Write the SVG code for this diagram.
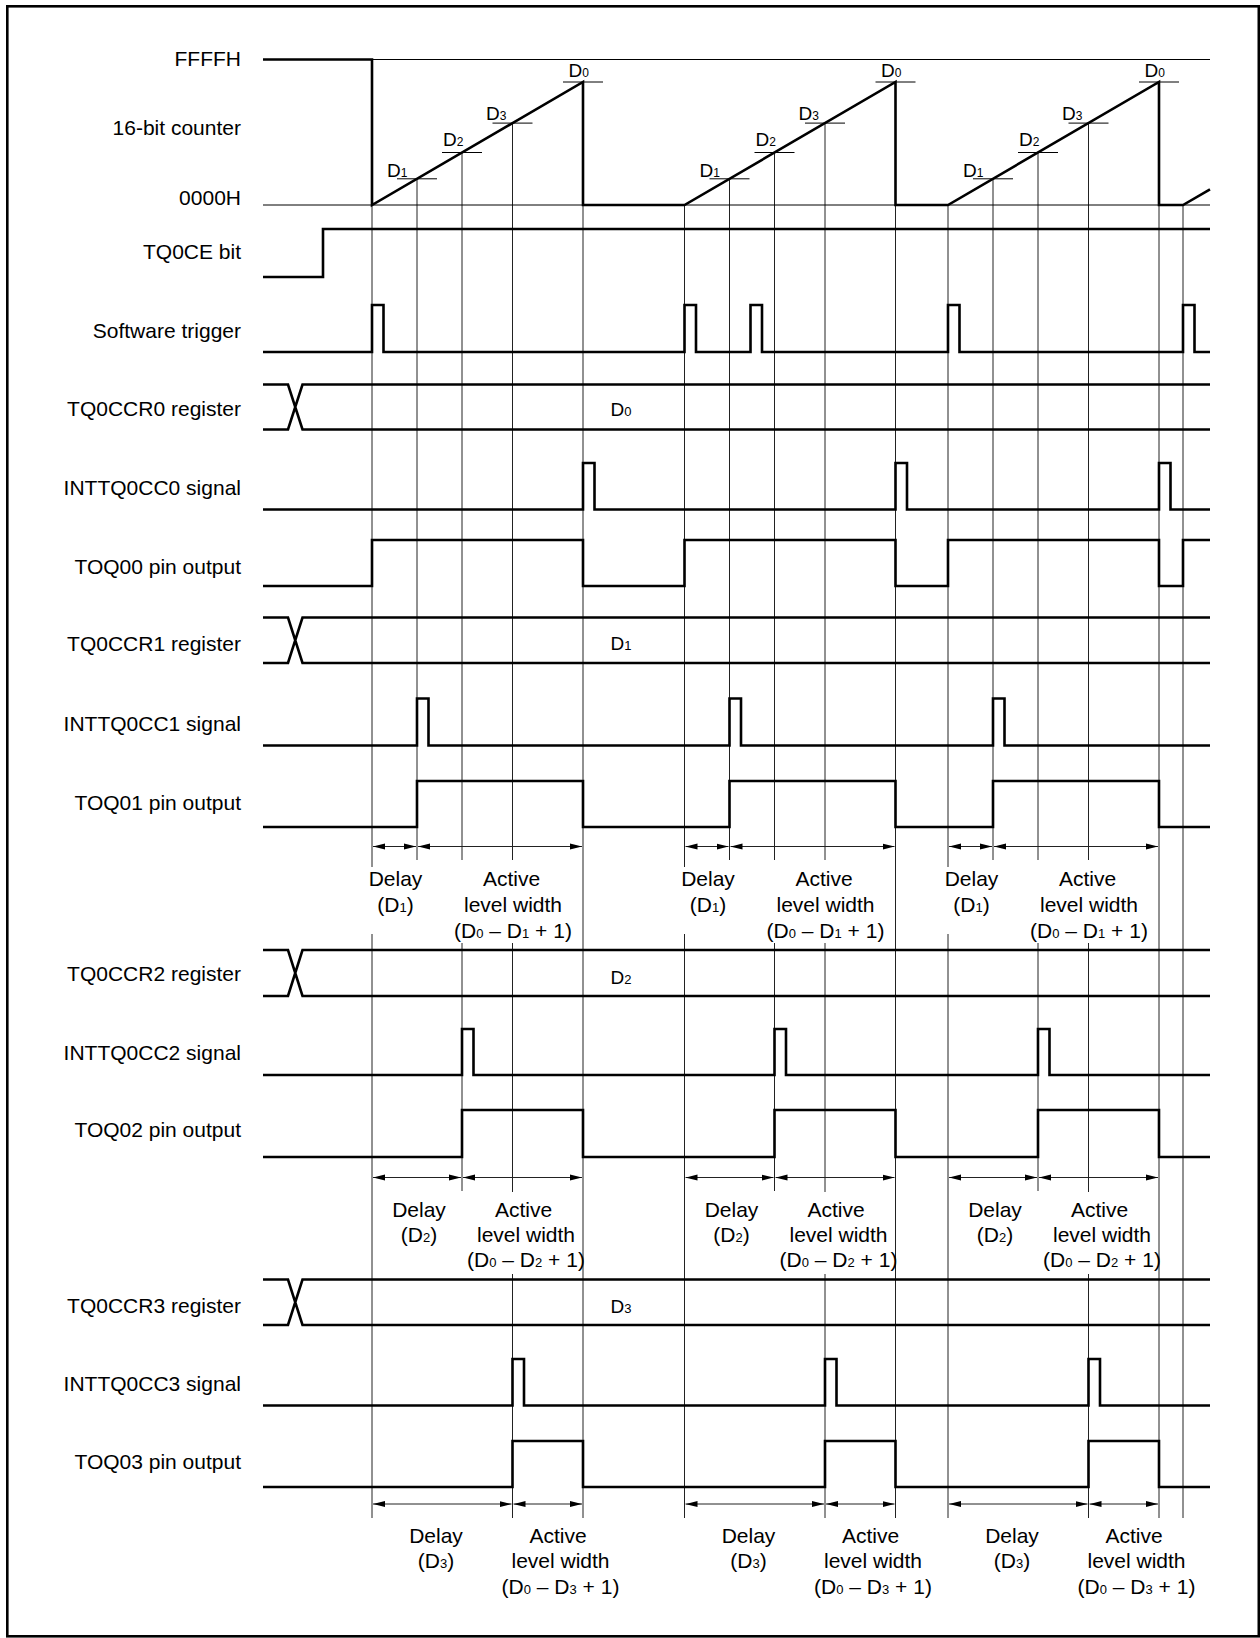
<svg xmlns="http://www.w3.org/2000/svg" width="1260" height="1638" viewBox="0 0 1260 1638">
<style>
text{font-family:"Liberation Sans",Arial,Helvetica,sans-serif;fill:#000}
.lbl{font-size:21px;text-anchor:end}
.ann{font-size:21px;text-anchor:middle}
.sub{font-size:13px}
.dl{font-size:19px}
.dls{font-size:12px}
.bl{font-size:19px;text-anchor:middle}
.sig{fill:none;stroke:#000;stroke-width:2.6;stroke-linejoin:miter;stroke-linecap:butt}
.thin{fill:none;stroke:#000;stroke-width:1}
.guide{fill:none;stroke:#222;stroke-width:1}
.arr{fill:none;stroke:#222;stroke-width:1;marker-start:url(#ah);marker-end:url(#ah)}
</style>
<defs>
<marker id="ah" markerUnits="userSpaceOnUse" markerWidth="12" markerHeight="8" viewBox="0 0 12 8" refX="12" refY="4" orient="auto-start-reverse"><path d="M0,1 L12,4 L0,7 z" fill="#000"/></marker>
</defs>
<rect x="7.3" y="6.3" width="1251.5" height="1630" fill="none" stroke="#000" stroke-width="2.6"/>

<g id="connectors">
<path class="guide" d="M372,205 V867 M372,934 V1518 M417,178.8 V860 M462,152.5 V860 M462,943 V1191 M512.5,123.1 V860 M512.5,943 V1192 M512.5,1274 V1518 M583,82 V1518"/>
<path class="guide" d="M684.5,205 V867 M684.5,934 V1518 M729.5,178.8 V860 M774.5,152.5 V860 M774.5,943 V1191 M825,123.1 V860 M825,943 V1192 M825,1274 V1518 M895.5,82 V1518"/>
<path class="guide" d="M948,205 V867 M948,934 V1518 M993,178.8 V860 M1038,152.5 V860 M1038,943 V1191 M1088.5,123.1 V860 M1088.5,943 V1192 M1088.5,1274 V1518 M1159,82 V1518 M1183,205 V1518"/>
<g id="arrows1">
<line class="arr" x1="373" y1="846.5" x2="416" y2="846.5"/>
<line class="arr" x1="418" y1="846.5" x2="582" y2="846.5"/>
<line class="arr" x1="685.5" y1="846.5" x2="728.5" y2="846.5"/>
<line class="arr" x1="730.5" y1="846.5" x2="894.5" y2="846.5"/>
<line class="arr" x1="949" y1="846.5" x2="992" y2="846.5"/>
<line class="arr" x1="994" y1="846.5" x2="1158" y2="846.5"/>
</g>
<g id="arrows2">
<line class="arr" x1="373" y1="1177.5" x2="461" y2="1177.5"/>
<line class="arr" x1="463" y1="1177.5" x2="582" y2="1177.5"/>
<line class="arr" x1="685.5" y1="1177.5" x2="773.5" y2="1177.5"/>
<line class="arr" x1="775.5" y1="1177.5" x2="894.5" y2="1177.5"/>
<line class="arr" x1="949" y1="1177.5" x2="1037" y2="1177.5"/>
<line class="arr" x1="1039" y1="1177.5" x2="1158" y2="1177.5"/>
</g>
<g id="arrows3">
<line class="arr" x1="373" y1="1504" x2="511.5" y2="1504"/>
<line class="arr" x1="513.5" y1="1504" x2="582" y2="1504"/>
<line class="arr" x1="685.5" y1="1504" x2="824" y2="1504"/>
<line class="arr" x1="826" y1="1504" x2="894.5" y2="1504"/>
<line class="arr" x1="949" y1="1504" x2="1087.5" y2="1504"/>
<line class="arr" x1="1089.5" y1="1504" x2="1158" y2="1504"/>
</g>
</g>

<g id="counter">
<text class="lbl" x="241" y="66">FFFFH</text>
<text class="lbl" x="241" y="135">16-bit counter</text>
<text class="lbl" x="241" y="205">0000H</text>
<path class="thin" d="M372,59.5 H1210 M263,205 H1210"/>
<path class="thin" d="M397,178.8 H437 M442,152.5 H482 M492.5,123.1 H532.5 M563,82 H603"/>
<path class="thin" d="M709.5,178.8 H749.5 M754.5,152.5 H794.5 M805,123.1 H845 M875.5,82 H915.5"/>
<path class="thin" d="M973,178.8 H1013 M1018,152.5 H1058 M1068.5,123.1 H1108.5 M1139,82 H1179"/>
<path class="sig" d="M263,59.5 H372 V205 L583,82 V205 H684.5 L895.5,82 V205 H948 L1159,82 V205 H1183 L1210,189.3"/>
<text class="dl" x="387" y="177">D<tspan class="dls">1</tspan></text>
<text class="dl" x="443" y="145.5">D<tspan class="dls">2</tspan></text>
<text class="dl" x="486" y="119.5">D<tspan class="dls">3</tspan></text>
<text class="dl" x="568.5" y="77">D<tspan class="dls">0</tspan></text>
<text class="dl" x="699.5" y="177">D<tspan class="dls">1</tspan></text>
<text class="dl" x="755.5" y="145.5">D<tspan class="dls">2</tspan></text>
<text class="dl" x="798.5" y="119.5">D<tspan class="dls">3</tspan></text>
<text class="dl" x="881" y="77">D<tspan class="dls">0</tspan></text>
<text class="dl" x="963" y="177">D<tspan class="dls">1</tspan></text>
<text class="dl" x="1019" y="145.5">D<tspan class="dls">2</tspan></text>
<text class="dl" x="1062" y="119.5">D<tspan class="dls">3</tspan></text>
<text class="dl" x="1144.5" y="77">D<tspan class="dls">0</tspan></text>
</g>

<g id="tq0ce">
<text class="lbl" x="241" y="259">TQ0CE bit</text>
<path class="sig" d="M263,277 H323 V229 H1210"/>
</g>

<g id="swtrigger">
<text class="lbl" x="241" y="338">Software trigger</text>
<path class="sig" d="M263,352 H372 V305 H383.5 V352 H684.5 V305 H696 V352 H750.5 V305 H762 V352 H948 V305 H959.5 V352 H1183 V305 H1194.5 V352 H1210"/>
</g>

<g id="tq0ccr0">
<text class="lbl" x="241" y="416">TQ0CCR0 register</text>
<path class="sig" d="M263,384.5 H288 L302.5,429.5 H1210 M263,429.5 H288 L302.5,384.5 H1210"/>
<text class="bl" x="621" y="416">D<tspan class="sub">0</tspan></text>
</g>

<g id="int0">
<text class="lbl" x="241" y="495">INTTQ0CC0 signal</text>
<path class="sig" d="M263,509.5 H583 V463 H594.5 V509.5 H895.5 V463 H907 V509.5 H1159 V463 H1170.5 V509.5 H1210"/>
</g>

<g id="toq00">
<text class="lbl" x="241" y="574">TOQ00 pin output</text>
<path class="sig" d="M263,586 H372 V540 H583 V586 H684.5 V540 H895.5 V586 H948 V540 H1159 V586 H1183 V540 H1210"/>
</g>

<g id="tq0ccr1">
<text class="lbl" x="241" y="651">TQ0CCR1 register</text>
<path class="sig" d="M263,617.5 H288 L302.5,663 H1210 M263,663 H288 L302.5,617.5 H1210"/>
<text class="bl" x="621" y="650">D<tspan class="sub">1</tspan></text>
</g>

<g id="int1">
<text class="lbl" x="241" y="731">INTTQ0CC1 signal</text>
<path class="sig" d="M263,745.5 H417 V698.5 H428.5 V745.5 H729.5 V698.5 H741 V745.5 H993 V698.5 H1004.5 V745.5 H1210"/>
</g>

<g id="toq01">
<text class="lbl" x="241" y="810">TOQ01 pin output</text>
<path class="sig" d="M263,827 H417 V781 H583 V827 H729.5 V781 H895.5 V827 H993 V781 H1159 V827 H1210"/>
</g>

<g id="notes1">
<text class="ann" x="395.5" y="886">Delay</text>
<text class="ann" x="395.5" y="912">(D<tspan class="sub">1</tspan>)</text>
<text class="ann" x="511.5" y="886">Active</text>
<text class="ann" x="513" y="912">level width</text>
<text class="ann" x="513" y="937.5">(D<tspan class="sub">0</tspan> – D<tspan class="sub">1</tspan> + 1)</text>
<text class="ann" x="708" y="886">Delay</text>
<text class="ann" x="708" y="912">(D<tspan class="sub">1</tspan>)</text>
<text class="ann" x="824" y="886">Active</text>
<text class="ann" x="825.5" y="912">level width</text>
<text class="ann" x="825.5" y="937.5">(D<tspan class="sub">0</tspan> – D<tspan class="sub">1</tspan> + 1)</text>
<text class="ann" x="971.5" y="886">Delay</text>
<text class="ann" x="971.5" y="912">(D<tspan class="sub">1</tspan>)</text>
<text class="ann" x="1087.5" y="886">Active</text>
<text class="ann" x="1089" y="912">level width</text>
<text class="ann" x="1089" y="937.5">(D<tspan class="sub">0</tspan> – D<tspan class="sub">1</tspan> + 1)</text>
</g>

<g id="tq0ccr2">
<text class="lbl" x="241" y="981">TQ0CCR2 register</text>
<path class="sig" d="M263,950 H288 L302.5,996 H1210 M263,996 H288 L302.5,950 H1210"/>
<text class="bl" x="621" y="984">D<tspan class="sub">2</tspan></text>
</g>

<g id="int2">
<text class="lbl" x="241" y="1060">INTTQ0CC2 signal</text>
<path class="sig" d="M263,1075 H462 V1029 H473.5 V1075 H774.5 V1029 H786 V1075 H1038 V1029 H1049.5 V1075 H1210"/>
</g>

<g id="toq02">
<text class="lbl" x="241" y="1137">TOQ02 pin output</text>
<path class="sig" d="M263,1157 H462 V1110 H583 V1157 H774.5 V1110 H895.5 V1157 H1038 V1110 H1159 V1157 H1210"/>
</g>

<g id="notes2">
<text class="ann" x="419" y="1216.5">Delay</text>
<text class="ann" x="419" y="1241.5">(D<tspan class="sub">2</tspan>)</text>
<text class="ann" x="523.5" y="1216.5">Active</text>
<text class="ann" x="526" y="1241.5">level width</text>
<text class="ann" x="526" y="1267">(D<tspan class="sub">0</tspan> – D<tspan class="sub">2</tspan> + 1)</text>
<text class="ann" x="731.5" y="1216.5">Delay</text>
<text class="ann" x="731.5" y="1241.5">(D<tspan class="sub">2</tspan>)</text>
<text class="ann" x="836" y="1216.5">Active</text>
<text class="ann" x="838.5" y="1241.5">level width</text>
<text class="ann" x="838.5" y="1267">(D<tspan class="sub">0</tspan> – D<tspan class="sub">2</tspan> + 1)</text>
<text class="ann" x="995" y="1216.5">Delay</text>
<text class="ann" x="995" y="1241.5">(D<tspan class="sub">2</tspan>)</text>
<text class="ann" x="1099.5" y="1216.5">Active</text>
<text class="ann" x="1102" y="1241.5">level width</text>
<text class="ann" x="1102" y="1267">(D<tspan class="sub">0</tspan> – D<tspan class="sub">2</tspan> + 1)</text>
</g>

<g id="tq0ccr3">
<text class="lbl" x="241" y="1313">TQ0CCR3 register</text>
<path class="sig" d="M263,1279.5 H288 L302.5,1325 H1210 M263,1325 H288 L302.5,1279.5 H1210"/>
<text class="bl" x="621" y="1312.5">D<tspan class="sub">3</tspan></text>
</g>

<g id="int3">
<text class="lbl" x="241" y="1391">INTTQ0CC3 signal</text>
<path class="sig" d="M263,1405.5 H512.5 V1359 H524 V1405.5 H825 V1359 H836.5 V1405.5 H1088.5 V1359 H1100 V1405.5 H1210"/>
</g>

<g id="toq03">
<text class="lbl" x="241" y="1469">TOQ03 pin output</text>
<path class="sig" d="M263,1487 H512.5 V1441 H583 V1487 H825 V1441 H895.5 V1487 H1088.5 V1441 H1159 V1487 H1210"/>
</g>

<g id="notes3">
<text class="ann" x="436" y="1542.5">Delay</text>
<text class="ann" x="436" y="1568">(D<tspan class="sub">3</tspan>)</text>
<text class="ann" x="558" y="1542.5">Active</text>
<text class="ann" x="560.5" y="1568">level width</text>
<text class="ann" x="560.5" y="1593.5">(D<tspan class="sub">0</tspan> – D<tspan class="sub">3</tspan> + 1)</text>
<text class="ann" x="748.5" y="1542.5">Delay</text>
<text class="ann" x="748.5" y="1568">(D<tspan class="sub">3</tspan>)</text>
<text class="ann" x="870.5" y="1542.5">Active</text>
<text class="ann" x="873" y="1568">level width</text>
<text class="ann" x="873" y="1593.5">(D<tspan class="sub">0</tspan> – D<tspan class="sub">3</tspan> + 1)</text>
<text class="ann" x="1012" y="1542.5">Delay</text>
<text class="ann" x="1012" y="1568">(D<tspan class="sub">3</tspan>)</text>
<text class="ann" x="1134" y="1542.5">Active</text>
<text class="ann" x="1136.5" y="1568">level width</text>
<text class="ann" x="1136.5" y="1593.5">(D<tspan class="sub">0</tspan> – D<tspan class="sub">3</tspan> + 1)</text>
</g>
</svg>
